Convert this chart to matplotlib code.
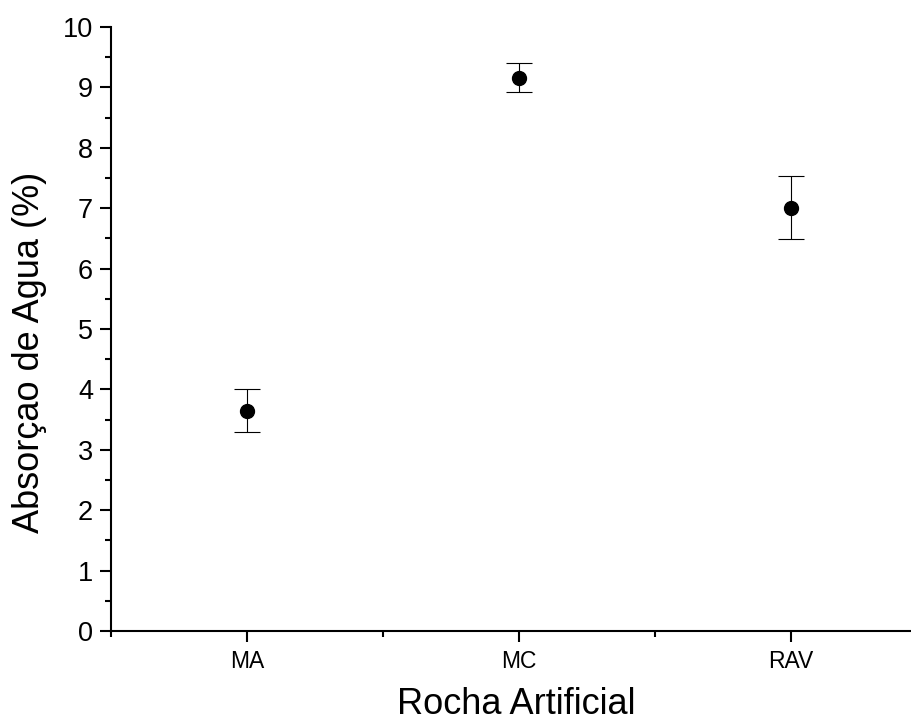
import matplotlib
matplotlib.use("Agg")
import matplotlib.pyplot as plt
from matplotlib.ticker import MultipleLocator, FixedLocator

plt.rcParams['font.family'] = ['Liberation Sans', 'DejaVu Sans']

categorias = ["MA", "MC", "RAV"]
absorcao = [3.65, 9.16, 7.01]
erro = [0.36, 0.24, 0.52]

fig = plt.figure(figsize=(9.12, 7.22), dpi=100)
ax = fig.add_axes([111 / 912, 1 - 631 / 722, 816 / 912, 604 / 722])

x = list(range(1, len(categorias) + 1))
ax.errorbar(x, absorcao, yerr=erro, fmt='o', color='black', markersize=10,
            ecolor='black', elinewidth=0.8, capsize=9.5, capthick=0.8)

ax.set_xlim(0.5, 3.5)
ax.set_ylim(0, 10)
ax.set_xticks(x)
ax.set_xticklabels(categorias)
ax.xaxis.set_minor_locator(FixedLocator([0.5, 1.5, 2.5, 3.5]))
ax.yaxis.set_major_locator(MultipleLocator(1))
ax.yaxis.set_minor_locator(MultipleLocator(0.5))

for s in ['top', 'right']:
    ax.spines[s].set_visible(False)
for s in ['left', 'bottom']:
    ax.spines[s].set_linewidth(1.5)

ax.tick_params(which='major', direction='out', length=8, width=1.5)
ax.tick_params(which='minor', direction='out', length=4, width=1.5)
ax.tick_params(axis='y', labelsize=19.5, pad=5)
ax.tick_params(axis='x', labelsize=16.5, pad=6)

ax.set_xlabel("Rocha Artificial", fontsize=26)
ax.set_ylabel("Absorçao de Agua (%)", fontsize=26)
ax.xaxis.set_label_coords((516 - 111) / 816, -(704 - 631) / 604)
ax.yaxis.set_label_coords(-(111 - 30) / 816, (631 - 352) / 604)
ax.xaxis.label.set_va('center')
ax.yaxis.label.set_va('center')

fig.savefig("out.png", dpi=100)
